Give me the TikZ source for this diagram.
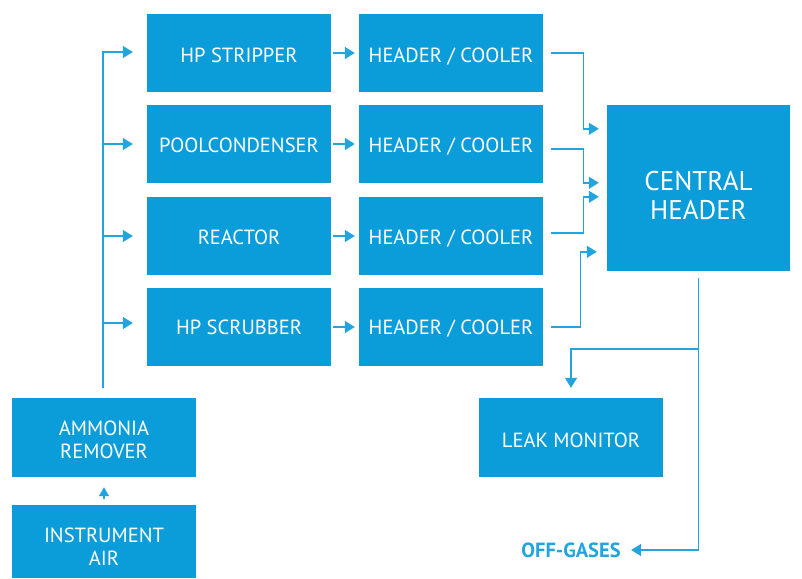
\documentclass[tikz,border=0pt]{standalone}
\usepackage{fontspec}
\setmainfont{PT Sans}
\usetikzlibrary{arrows.meta,calc}
\definecolor{boxblue}{HTML}{0A9DD9}
\definecolor{lineblue}{HTML}{22A5DE}
% strut that lowers a centred text block by #1
\newcommand\dropby[1]{\rule{0pt}{\dimexpr\fontcharht\font`\H+#1*2\relax}}
\begin{document}
\begin{tikzpicture}[x=1pt,y=-1pt,
  box/.style={fill=boxblue,text=white,minimum width=184pt,minimum height=78pt,
    inner sep=0pt,align=center,font=\fontsize{20.5}{23}\selectfont},
  line/.style={draw=lineblue,line width=1.4pt},
  flow/.style={line,-{Triangle[length=10pt,width=12pt]}}]
\useasboundingbox (0,0) rectangle (802,578);

% process units
\node[box] (strip) at (239,53)  {\dropby{2pt}HP STRIPPER};
\node[box] (pool)  at (239,144) {\dropby{1pt}POOLCONDENSER};
\node[box] (react) at (239,236) {\dropby{1pt}REACTOR};
\node[box] (scrub) at (239,327) {\dropby{0pt}HP SCRUBBER};

% header / cooler column
\foreach \n/\y/\d in {hc1/53/2pt,hc2/144/1pt,hc3/236/1pt,hc4/327/0pt}
  \node[box,text depth=0pt] (\n) at (451,\y) {\dropby{\d}HEADER / COOLER};

% central header
\node[box,minimum width=183pt,minimum height=166pt,
  font=\fontsize{27}{29}\selectfont] (ch) at (698.5,188) {\dropby{8pt}CENTRAL\\HEADER};

% air supply
\node[box,minimum height=79pt] (amm) at (104,437.5) {\dropby{2pt}AMMONIA\\REMOVER};
\node[box,minimum height=73pt] (air) at (104,541.5) {\dropby{5pt}INSTRUMENT\\AIR};

% outputs
\node[box,minimum height=79pt] (leak) at (571,437.5) {\dropby{3pt}LEAK MONITOR};
\node[text=lineblue,font=\fontsize{20.5}{22}\selectfont\bfseries] (off) at (571,550) {OFF-GASES};

% instrument air into ammonia remover
\draw[line,-{Triangle[length=9pt,width=10pt]},shorten <=6pt,shorten >=10pt] (air.north) -- (amm.south);

% distribution trunk
\coordinate (trunk) at (103,388);
\draw[flow,shorten >=14pt] (trunk) |- ([yshift=1pt]strip.west);
\draw[flow,shorten >=14pt] (trunk |- pool.west) -- (pool.west);
\draw[flow,shorten >=14pt] (trunk |- react.west) -- (react.west);
\draw[flow,shorten >=14pt] ($(trunk |- scrub.west)+(0,-4)$) -- ($(scrub.west)+(0,-4)$);

% units to header / cooler
\foreach \a/\b in {strip/hc1,pool/hc2,react/hc3,scrub/hc4}
  \draw[flow,shorten <=2pt,shorten >=4pt] (\a.east) -- (\b.west);

% header / cooler to central header
\draw[flow,shorten >=8pt] ([xshift=8pt]hc1.east) -- ++(32,0) |- ($(ch.north west)+(0,24)$);
\draw[flow,shorten >=8pt] ([xshift=8pt,yshift=-5pt]hc2.east) -- ++(32,0) |- ($(ch.north west)+(0,78)$);
\draw[flow,shorten >=8pt] ([xshift=8pt,yshift=3pt]hc3.east) -- ++(32,0) |- ($(ch.north west)+(0,92)$);
\draw[flow,shorten >=10pt] ([xshift=8pt]hc4.east) -- ++(29,0) |- ($(ch.north west)+(0,147)$);

% central header outlets
\coordinate (split) at (699,349);
\draw[flow,shorten <=7pt,shorten >=7pt] (ch.south) -- (ch.south |- off.east) -- (off.east);
\draw[flow,shorten >=10pt] (split) -| (leak.north);
\end{tikzpicture}
\end{document}
